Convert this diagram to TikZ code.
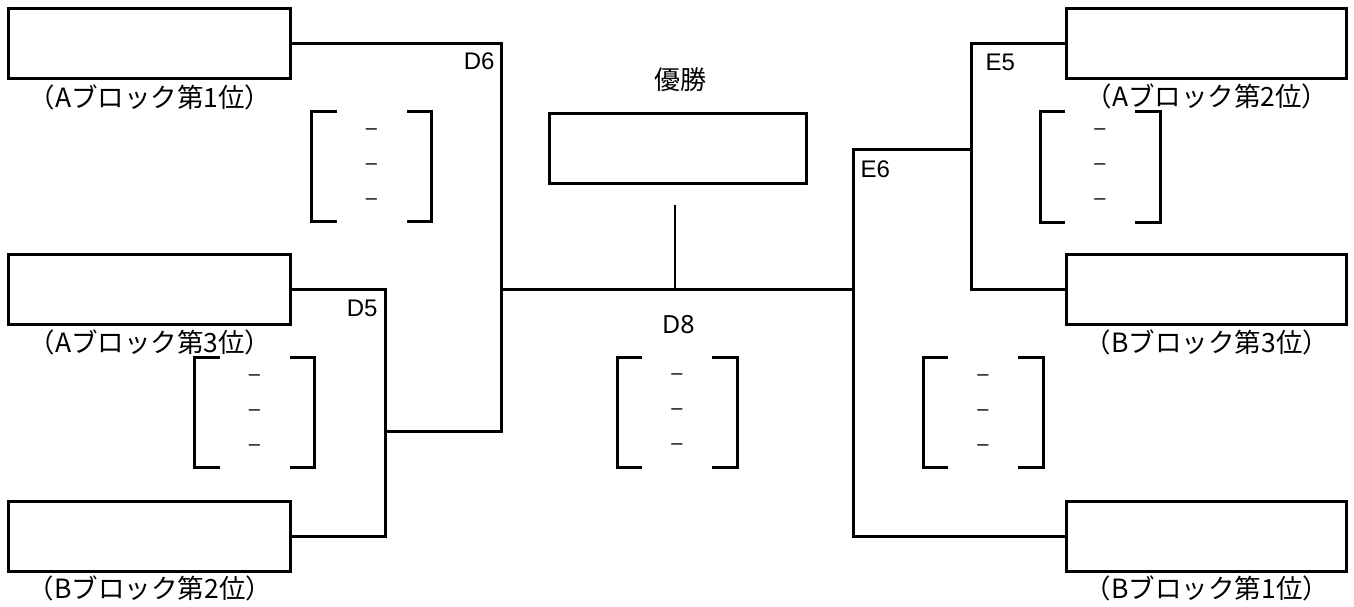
\documentclass[tikz,border=0pt]{standalone}
\usepackage{fontspec}
\setmainfont{Liberation Sans}
\newfontfamily\jp{Noto Sans CJK JP}
\newfontfamily\nsans{Noto Sans}
\begin{document}
\begin{tikzpicture}[x=1pt,y=-1pt,line width=3pt,
  team/.style={draw,minimum width=282pt,minimum height=70pt,inner sep=0pt},
  rteam/.style={team,minimum width=280pt},
  champ/.style={draw,minimum width=257pt,minimum height=70pt,inner sep=0pt},
  rank/.style={font=\jp\fontsize{26.5}{30}\selectfont,inner sep=0pt},
  title/.style={font=\jp\fontsize{26}{30}\selectfont,inner sep=0pt},
  code/.style={font=\fontsize{24}{28}\selectfont,inner sep=0pt},
  fcode/.style={font=\nsans\fontsize{25}{28}\selectfont,inner sep=0pt},
  score/.style={minimum width=117pt,minimum height=107pt,inner sep=0pt},
  dashtxt/.style={font=\fontsize{20}{24}\selectfont,inner sep=0pt},
  brk/.style={line width=3pt},
  stemline/.style={line width=1.3pt}]
\useasboundingbox (0,0) rectangle (1354,607);

% team boxes
\node[team] (a1) at (149.5,43.3) {};
\node[team] (a3) at (149.5,289) {};
\node[team] (b2) at (149.5,536.5) {};
\node[rteam] (a2) at (1206,43.3) {};
\node[rteam] (b3) at (1206,289.5) {};
\node[rteam] (b1) at (1206,536.5) {};
\node[champ] (win) at (677.5,148.3) {};

% labels
\node[rank] (la1) at (150,97) {（Aブロック第1位）};
\node[rank] (la3) at (150,342) {（Aブロック第3位）};
\node[rank] (lb2) at (150,588) {（Bブロック第2位）};
\node[rank] (la2) at (1207,96) {（Aブロック第2位）};
\node[rank] (lb3) at (1207,342) {（Bブロック第3位）};
\node[rank] (lb1) at (1207,588) {（Bブロック第1位）};
\node[title] (ttl) at (680,80) {優勝};

% match codes
\node[code,anchor=east] (cd6) at (496,61) {D6};
\node[code,anchor=east] (cd5) at (379,308) {D5};
\node[fcode] (cd8) at (678.5,325) {D8};
\node[code,anchor=west] (ce5) at (984,62) {E5};
\node[code,anchor=west] (ce6) at (859,169) {E6};

% junctions
\coordinate (d5) at (385,431);
\coordinate (d6b) at (501,431);
\coordinate (d6) at (501,289);
\coordinate (e6) at (853,289);
\coordinate (e5) at (971,149);
\coordinate (stem) at (675,205);

% bracket lines
\draw (a3.east) -| (d5) |- (b2.east);
\draw (a1.east) -| (d6b) -- (d5);
\draw (d6) -- (e6);
\draw (a2.west) -| (e5) |- (b3.west);
\draw (e5) -| (e6) |- (b1.west);
\draw[stemline] (stem) -- (stem |- d6);

% score brackets
\node[score] (s1) at (371.5,166.5) {};
\node[score] (s2) at (254.5,412.5) {};
\node[score] (s3) at (677,412) {};
\node[score] (s4) at (1100,167) {};
\node[score] (s5) at (983,412.5) {};
\foreach \n in {s1,s2,s3,s4,s5} {
  \draw[brk] ([xshift=25pt]\n.north west) -- (\n.north west) -- (\n.south west) -- ([xshift=25pt]\n.south west);
  \draw[brk] ([xshift=-25pt]\n.north east) -- (\n.north east) -- (\n.south east) -- ([xshift=-25pt]\n.south east);
  \node[dashtxt] (\n-a) at ([yshift=35pt]\n.center) {–};
  \node[dashtxt] (\n-b) at (\n.center) {–};
  \node[dashtxt] (\n-c) at ([yshift=-35pt]\n.center) {–};
}
\end{tikzpicture}
\end{document}
